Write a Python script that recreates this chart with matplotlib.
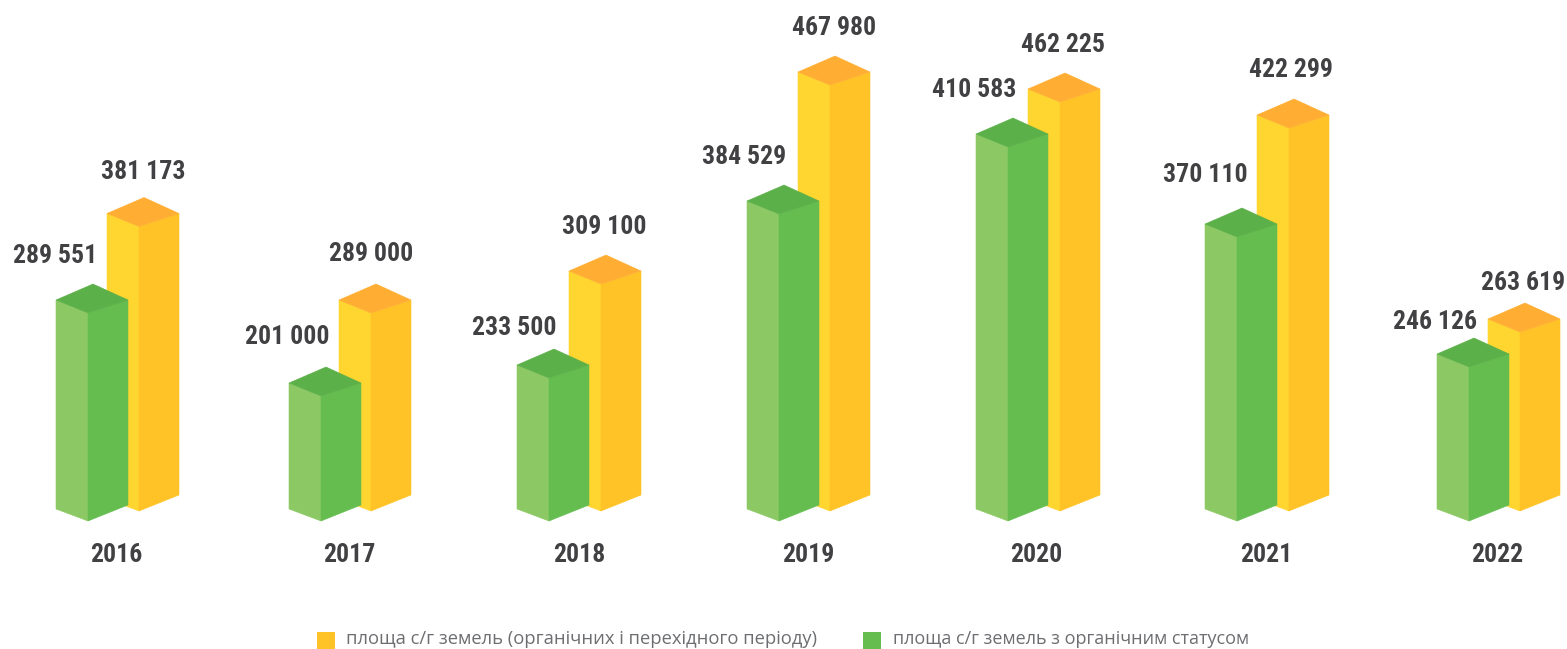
import matplotlib
matplotlib.use("Agg")
import matplotlib.pyplot as plt
import numpy as np
from matplotlib.patches import Polygon, Rectangle
from matplotlib.transforms import IdentityTransform

years = ["2016", "2017", "2018", "2019", "2020", "2021", "2022"]
organic_area = [289551, 201000, 233500, 384529, 410583, 370110, 246126]
total_area = [381173, 289000, 309100, 467980, 462225, 422299, 263619]

legend_total = "площа с/г земель (органічних і перехідного періоду)"
legend_organic = "площа с/г земель з органічним статусом"

# the infographic's value axis is not linear, this is what the bars were drawn to
scale_values = [-60000, 0, 201000, 233500, 246126, 263619, 289000, 289551,
                309100, 370110, 381173, 384529, 410583, 422299, 462225,
                467980, 600000]
scale_pixels = [-128, 0, 125, 143, 154, 179, 198, 208,
                227, 284, 284.5, 307, 374, 383, 409,
                426, 521]

# layout, in pixels of the 1567x649 picture
WIDTH, HEIGHT = 1567, 649
green_left = [56, 289, 517, 747, 976, 1205, 1437]
yellow_left = [107, 339, 569, 798, 1028, 1257, 1488]
green_label_xy = [(55, 256), (287, 337), (514, 328), (744, 157), (974, 90), (1205, 175), (1435, 322)]
yellow_label_xy = [(143, 172), (371, 254), (604, 227), (834, 28), (1063, 45), (1291, 70), (1523, 283)]
year_x = [116, 349, 579, 808, 1036, 1266, 1497]
GREEN_BASE, YELLOW_BASE = 521, 511

GREEN = ("#8cc965", "#65bd50", "#5cb049")
YELLOW = ("#ffd52f", "#ffc327", "#ffae33")
DARK = "#414042"
FONT = ["Roboto Condensed", "Lato", "DejaVu Sans"]


def forward(v):
    return np.interp(v, scale_values, scale_pixels)


def inverse(p):
    return np.interp(p, scale_pixels, scale_values)


def draw_bar(ax, left, value, base, colors, zorder):
    # front edge position comes from the y scale, the rest is a fixed 3d offset
    x0, y_top = ax.transData.transform((left + 32, value))
    _, y_zero = ax.transData.transform((left + 32, 0))
    y_base = y_zero + (GREEN_BASE - base)
    y_top = y_top + (GREEN_BASE - base)
    left_face = [(x0 - 32, y_base + 12), (x0, y_base), (x0, y_top), (x0 - 32, y_top + 13)]
    right_face = [(x0, y_base), (x0 + 40, y_base + 16), (x0 + 40, y_top + 13), (x0, y_top)]
    top_face = [(x0 - 32, y_top + 13), (x0, y_top), (x0 + 40, y_top + 13), (x0 + 5, y_top + 29)]
    for pts, c in zip((left_face, right_face, top_face), colors):
        ax.add_patch(Polygon(pts, closed=True, facecolor=c, edgecolor=c, linewidth=0.4,
                             transform=IdentityTransform(), zorder=zorder))


fig = plt.figure(figsize=(WIDTH / 100, HEIGHT / 100), dpi=100)
ax = fig.add_axes([0, 0, 1, 1])
ax.set_yscale("function", functions=(forward, inverse))
ax.set_xlim(0, WIDTH)
ax.set_ylim(-60000, 600000)
ax.axis("off")

for i in range(len(years)):
    draw_bar(ax, yellow_left[i], total_area[i], YELLOW_BASE, YELLOW, 2)
    draw_bar(ax, green_left[i], organic_area[i], GREEN_BASE, GREEN, 3)


def px_text(x, y, s, **kw):
    ax.text(x / WIDTH, 1 - y / HEIGHT, s, transform=ax.transAxes, ha="center", va="center", **kw)


def label(v):
    return f"{v:,}".replace(",", " ")


for i in range(len(years)):
    px_text(*green_label_xy[i], label(organic_area[i]), family=FONT, fontweight="bold", fontsize=18.5, color=DARK)
    px_text(*yellow_label_xy[i], label(total_area[i]), family=FONT, fontweight="bold", fontsize=18.5, color=DARK)
    px_text(year_x[i], 555, years[i], family=FONT, fontweight="bold", fontsize=18.5, color=DARK)

# legend
for x, c in ((317, YELLOW[1]), (863, GREEN[1])):
    ax.add_patch(Rectangle((x / WIDTH, 1 - 649 / HEIGHT), 18 / WIDTH, 17 / HEIGHT, transform=ax.transAxes,
                           facecolor=c, edgecolor="none", zorder=3))
ax.text(346 / WIDTH, 1 - 639 / HEIGHT, legend_total, transform=ax.transAxes, family="Open Sans",
        fontsize=13.2, color="#6d6e71", ha="left", va="center")
ax.text(893 / WIDTH, 1 - 639 / HEIGHT, legend_organic, transform=ax.transAxes, family="Open Sans",
        fontsize=13.0, color="#6d6e71", ha="left", va="center")

fig.savefig("out.png", dpi=100, facecolor="white")
